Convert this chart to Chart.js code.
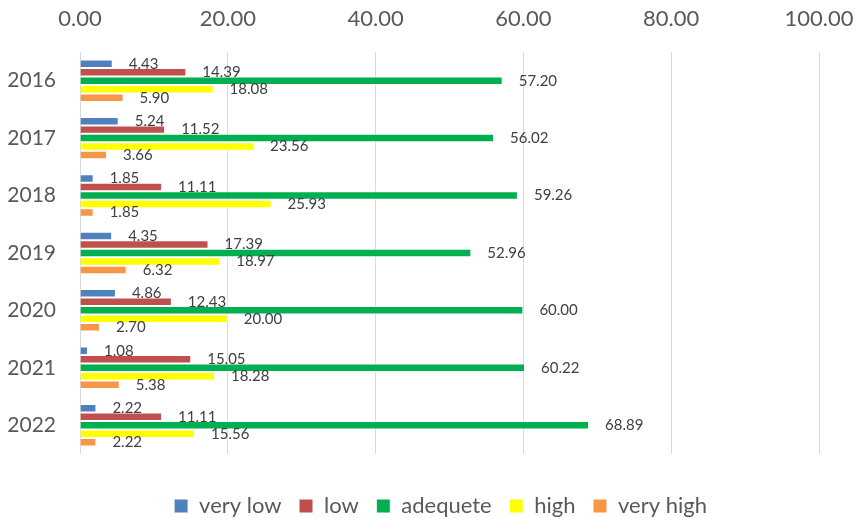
<!DOCTYPE html>
<html>
<head>
<meta charset="utf-8">
<script src="https://cdn.jsdelivr.net/npm/chart.js@4/dist/chart.umd.min.js"></script>
<style>
  html, body { margin: 0; padding: 0; background: #ffffff; }
  #wrap { width: 857px; height: 518px; }
</style>
</head>
<body>
<div id="wrap"><canvas id="levelChart"></canvas></div>
<script>
// DATA

const years = ["2016", "2017", "2018", "2019", "2020", "2021", "2022"];

const veryLow  = [4.43, 5.24, 1.85, 4.35, 4.86, 1.08, 2.22];
const low      = [14.39, 11.52, 11.11, 17.39, 12.43, 15.05, 11.11];
const adequete = [57.20, 56.02, 59.26, 52.96, 60.00, 60.22, 68.89];
const high     = [18.08, 23.56, 25.93, 18.97, 20.00, 18.28, 15.56];
const veryHigh = [5.90, 3.66, 1.85, 6.32, 2.70, 5.38, 2.22];

const seriesNames  = ["very low", "low", "adequete", "high", "very high"];
const seriesColors = ["#4F81BD", "#C0504D", "#00B050", "#FFFF00", "#F79646"];

const textColor = "#595959";


// VALUE LABELS AT BAR ENDS

const valueLabels = {
  id: "valueLabels",
  afterDatasetsDraw(chart) {
    const ctx = chart.ctx;
    ctx.save();
    ctx.font = "15px Lato";
    ctx.fillStyle = "#404040";
    ctx.textAlign = "left";
    ctx.textBaseline = "middle";
    chart.data.datasets.forEach((ds, i) => {
      chart.getDatasetMeta(i).data.forEach((bar, j) => {
        ctx.fillText(ds.data[j].toFixed(2), bar.x + 16, bar.y);
      });
    });
    ctx.restore();
  }
};


// LEGEND TWEAKS (height + shift right)

const legendFit = {
  id: "legendFit",
  beforeInit(chart) {
    const legend = chart.legend;
    const fit = legend.fit;
    legend.fit = function () {
      fit.call(this);
      this.height -= 9;
    };
    const draw = legend.draw;
    legend.draw = function () {
      this.ctx.save();
      this.ctx.translate(12, 0);
      draw.call(this);
      this.ctx.restore();
    };
  }
};


// CHART

const seriesData = [veryLow, low, adequete, high, veryHigh];

new Chart(document.getElementById("levelChart"), {
  type: "bar",
  data: {
    labels: years,
    datasets: seriesData.map((values, i) => ({
      label: seriesNames[i],
      data: values,
      backgroundColor: seriesColors[i],
      borderColor: "#ffffff",
      borderWidth: 1,
      barPercentage: 1,
      categoryPercentage: 0.74
    }))
  },
  options: {
    indexAxis: "y",
    responsive: true,
    maintainAspectRatio: false,
    animation: false,
    layout: {
      padding: 0
    },
    plugins: {
      legend: {
        position: "bottom",
        title: {
          display: true,
          text: " ",
          padding: 7,
          font: { size: 8 }
        },
        labels: {
          color: textColor,
          font: { family: "Lato", size: 22 },
          boxWidth: 14,
          boxHeight: 14,
          padding: 17.5
        }
      },
      tooltip: { enabled: false }
    },
    scales: {
      x: {
        position: "top",
        min: 0,
        max: 100,
        afterFit: scale => {
          scale.height = 52;
          scale.paddingLeft = 0;
          scale.paddingRight = 38;
        },
        ticks: {
          stepSize: 20,
          color: textColor,
          font: { family: "Lato", size: 22 },
          padding: 20,
          callback: v => v.toFixed(2)
        },
        grid: {
          color: "#d9d9d9",
          drawTicks: false
        },
        border: { display: false }
      },
      y: {
        afterFit: scale => { scale.width = 80; },
        ticks: {
          color: textColor,
          font: { family: "Lato", size: 21 },
          padding: 24
        },
        grid: { display: false, drawTicks: false },
        border: { display: false }
      }
    }
  },
  plugins: [valueLabels, legendFit]
});
</script>
</body>
</html>
